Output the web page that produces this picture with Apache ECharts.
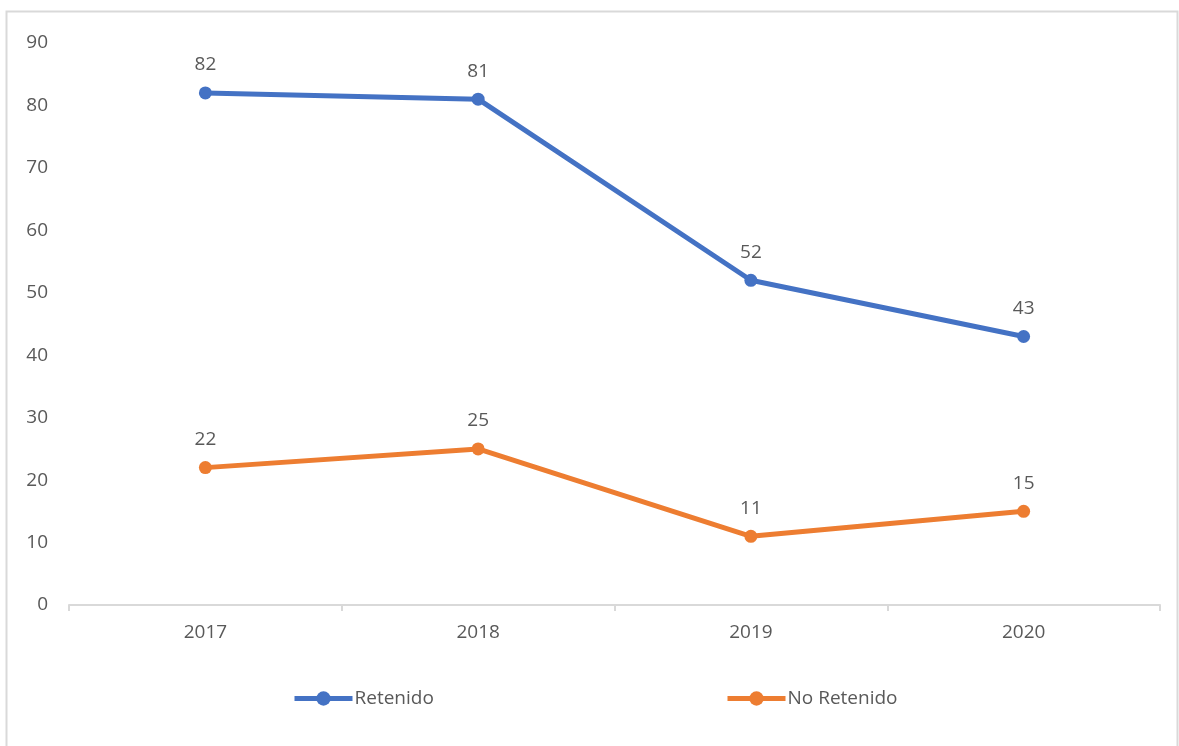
<!DOCTYPE html>
<html><head><meta charset="utf-8">
<script src="https://cdn.jsdelivr.net/npm/echarts@6/dist/echarts.min.js"></script>
<style>html,body{margin:0;padding:0;background:#fff}#c{width:1179px;height:746px}</style>
</head><body><div id="c"></div>
<script>
const categories = ['2017','2018','2019','2020'];
const retenido = [82, 81, 52, 43];
const noRetenido = [22, 25, 11, 15];
const seriesNames = ['Retenido','No Retenido'];
const txt = '#595959';
const font = "'Open Sans', 'Noto Sans', sans-serif";
const fs = 19;
const chart = echarts.init(document.getElementById('c'));
function mk(name, data, color){
  return {name, type:'line', data, symbol:'circle', symbolSize:13,
    lineStyle:{width:5,color}, itemStyle:{color},
    label:{show:true, position:'top', distance:12, color:txt, fontSize:fs, fontFamily:font},
    emphasis:{disabled:true}, animation:false};
}
function lg(name, left){
  return {data:[name], left, top:689, padding:0, itemWidth:58, itemHeight:18, itemGap:0,
    lineStyle:{width:5}, textStyle:{color:txt, fontSize:fs, fontFamily:font, padding:[0,0,0,-3]}};
}
chart.setOption({
  animation:false,
  textStyle:{fontFamily:font},
  graphic:[{type:'rect', silent:true, shape:{x:6.5,y:11.5,width:1171,height:800},
    style:{fill:'none', stroke:'#d9d9d9', lineWidth:2}}],
  grid:{left:69, right:19, top:43, bottom:141},
  xAxis:{type:'category', data:categories, boundaryGap:true,
    axisLine:{lineStyle:{color:'#d9d9d9', width:2}},
    axisTick:{show:true, length:6, lineStyle:{color:'#d9d9d9', width:2}},
    axisLabel:{color:txt, fontSize:fs, margin:18, fontFamily:font}},
  yAxis:{type:'value', min:0, max:90, interval:10,
    axisLine:{show:false}, axisTick:{show:false}, splitLine:{show:false},
    axisLabel:{color:txt, fontSize:fs, margin:21, fontFamily:font}},
  legend:[lg(seriesNames[0], 292), lg(seriesNames[1], 725)],
  series:[mk(seriesNames[0], retenido, '#4472C4'), mk(seriesNames[1], noRetenido, '#ED7D31')]
});
</script></body></html>
